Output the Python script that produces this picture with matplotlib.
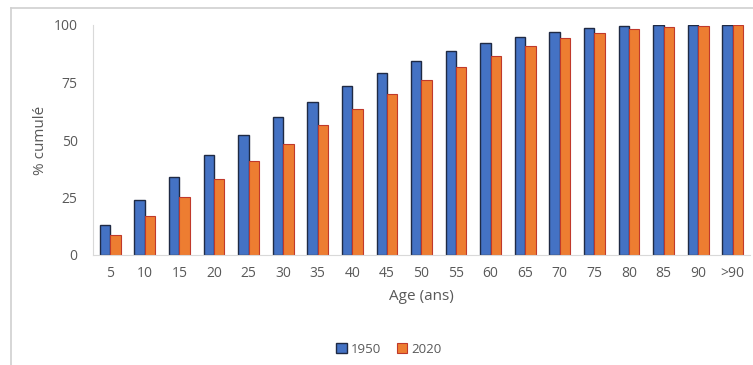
import numpy as np
import matplotlib.pyplot as plt
from matplotlib.lines import Line2D

ages = ["5", "10", "15", "20", "25", "30", "35", "40", "45", "50",
        "55", "60", "65", "70", "75", "80", "85", "90", ">90"]
cum_1950 = [13.1, 24.0, 34.0, 43.6, 52.3, 60.1, 66.6, 73.3, 79.0, 84.2,
            88.6, 92.1, 94.7, 96.8, 98.6, 99.4, 99.9, 99.9, 100.0]
cum_2020 = [8.8, 17.0, 25.4, 33.2, 41.0, 48.4, 56.4, 63.4, 69.8, 76.0,
            81.6, 86.4, 90.8, 94.2, 96.4, 98.1, 99.0, 99.4, 100.0]

plt.rcParams["font.family"] = ["Open Sans", "DejaVu Sans"]
grey = "#595959"

fig = plt.figure(figsize=(7.53, 3.65), dpi=100)
ax = fig.add_axes([93 / 753, 1 - 255 / 365, (750 - 93) / 753, 230 / 365])

x = np.arange(len(ages))
w = 0.3
ax.bar(x - w / 2, cum_1950, width=w, color="#4472C4", edgecolor="#1F2A44",
       linewidth=1.0, label="1950")
ax.bar(x + w / 2, cum_2020, width=w, color="#ED7D31", edgecolor="#C0392B",
       linewidth=0.8, label="2020")

ax.set_xlim(-0.5, len(ages) - 0.5)
ax.set_ylim(0, 100)
ax.set_yticks([0, 25, 50, 75, 100])
ax.set_xticks(x)
ax.set_xticklabels(ages)
ax.tick_params(axis="both", length=0, colors=grey, labelsize=10)
ax.tick_params(axis="y", pad=11)
ax.tick_params(axis="x", pad=8)
for s in ["top", "right"]:
    ax.spines[s].set_visible(False)
ax.spines["bottom"].set_color("#D9D9D9")
ax.spines["left"].set_color("#D9D9D9")

ax.set_xlabel("Age (ans)", color=grey, fontsize=11, labelpad=6)
ax.set_ylabel("% cumulé", color=grey, fontsize=11, labelpad=4)

ax.legend(loc="upper center", bbox_to_anchor=(0.45, -0.33), ncol=2, frameon=False,
          fontsize=9.5, handlelength=0.8, handleheight=0.8, handletextpad=0.3,
          columnspacing=1.2, labelcolor=grey)

# chart area border (top and left edges)
top = 1 - 7.5 / 365
left = 10.5 / 753
fig.add_artist(Line2D([left, 1], [top, top], transform=fig.transFigure,
                      color="#D0D0D0", linewidth=1.2))
fig.add_artist(Line2D([left, left], [0, top], transform=fig.transFigure,
                      color="#D0D0D0", linewidth=1.2))

fig.savefig("out.png", dpi=100)
